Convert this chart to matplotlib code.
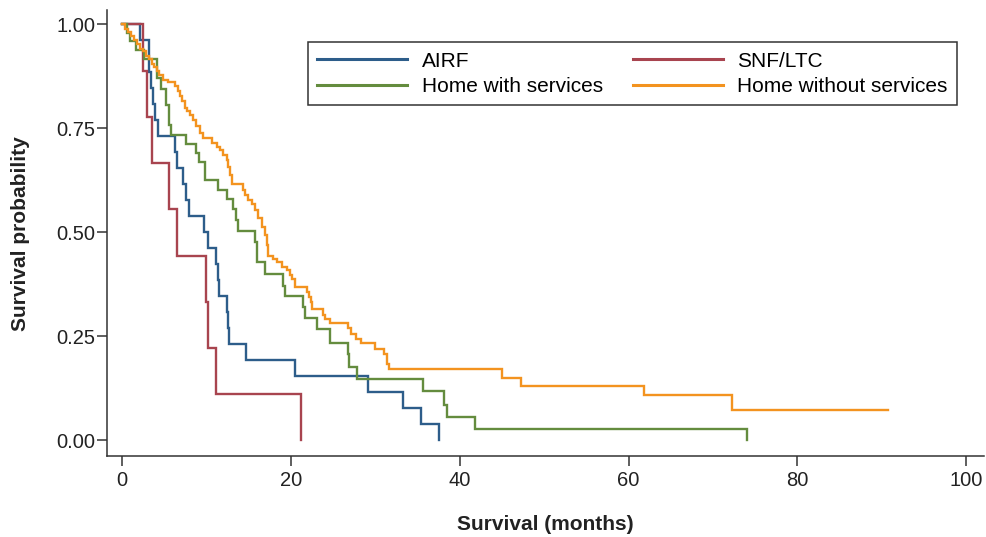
"""
Kaplan-Meier survival by discharge destination
"""
import matplotlib
matplotlib.use('Agg')
import matplotlib.pyplot as plt
import matplotlib.ticker as mticker

plt.rcParams['font.family'] = ['Liberation Sans', 'DejaVu Sans']

# event times (months) and survival after each drop
airf_t = [2.10, 3.16, 3.40, 3.67, 3.95, 4.27, 6.32, 6.55, 7.26, 7.55, 7.97, 9.75, 10.22,
          11.14, 11.37, 11.49, 12.44, 12.56, 12.71, 14.69, 20.50, 29.15, 33.29, 35.43, 37.56]
airf_s = [0.962, 0.885, 0.846, 0.808, 0.769, 0.731, 0.692, 0.654, 0.615, 0.577, 0.538, 0.500,
          0.462, 0.423, 0.385, 0.346, 0.308, 0.269, 0.231, 0.192, 0.154, 0.115, 0.077, 0.038, 0.0]

snf_t = [2.49, 3.00, 3.59, 5.56, 6.52, 9.95, 10.13, 11.14, 21.21]
snf_s = [0.889, 0.778, 0.667, 0.556, 0.444, 0.333, 0.222, 0.111, 0.0]

hws_t = [0.65, 0.89, 1.60, 2.55, 4.18, 4.59, 5.25, 5.51, 5.84, 7.62, 8.71, 9.06, 9.87, 11.41,
         12.41, 13.19, 13.45, 13.68, 15.76, 15.94, 16.88, 19.08, 19.35, 21.39, 21.62, 23.10,
         24.64, 26.72, 26.90, 27.81, 35.63, 38.19, 38.47, 41.77, 74.05]
hws_s = [0.980, 0.959, 0.939, 0.918, 0.870, 0.844, 0.805, 0.757, 0.734, 0.713, 0.690, 0.669,
         0.625, 0.601, 0.579, 0.555, 0.529, 0.502, 0.476, 0.428, 0.399, 0.371, 0.346, 0.319,
         0.294, 0.266, 0.234, 0.207, 0.176, 0.146, 0.117, 0.085, 0.056, 0.026, 0.0]

hwo_t = [0.36, 0.71, 1.07, 1.42, 1.78, 2.13, 2.49, 2.84, 3.20, 3.50, 3.79, 4.09, 4.44, 4.86,
         5.45, 6.24, 6.64, 6.87, 7.05, 7.43, 7.70, 8.02, 8.41, 8.80, 9.21, 9.60, 10.63, 11.22,
         11.61, 12.00, 12.41, 12.59, 12.80, 13.00, 14.37, 14.57, 14.96, 15.37, 15.76, 16.15,
         16.55, 16.94, 17.14, 17.33, 17.93, 18.33, 18.92, 19.51, 19.91, 20.11, 20.50, 21.86,
         22.16, 22.33, 22.48, 23.78, 24.05, 24.64, 26.81, 27.13, 27.73, 28.32, 29.98, 31.08,
         31.36, 31.58, 45.02, 47.27, 61.79, 72.24, 90.76]
hwo_s = [0.990, 0.981, 0.971, 0.962, 0.952, 0.942, 0.935, 0.925, 0.916, 0.906, 0.898, 0.889,
         0.879, 0.867, 0.862, 0.853, 0.839, 0.827, 0.815, 0.798, 0.791, 0.781, 0.769, 0.755,
         0.738, 0.726, 0.714, 0.706, 0.697, 0.685, 0.673, 0.656, 0.637, 0.615, 0.601, 0.589,
         0.577, 0.569, 0.553, 0.534, 0.513, 0.493, 0.469, 0.444, 0.435, 0.428, 0.416, 0.409,
         0.397, 0.388, 0.368, 0.356, 0.344, 0.332, 0.315, 0.300, 0.291, 0.282, 0.269, 0.256,
         0.244, 0.234, 0.220, 0.208, 0.184, 0.170, 0.150, 0.131, 0.108, 0.072, 0.072]

GROUPS = [
    ('AIRF',                  airf_t, airf_s, '#2D5D8A'),
    ('Home with services',    hws_t,  hws_s,  '#648C3E'),
    ('SNF/LTC',               snf_t,  snf_s,  '#A8444F'),
    ('Home without services', hwo_t,  hwo_s,  '#F3931F'),
]

fig = plt.figure(figsize=(9.86, 5.37), dpi=100)
fig.patch.set_facecolor('white')
ax = fig.add_axes([0.1085, 0.1508, 0.8895, 0.830])

# draw order: AIRF, SNF, home with, home without (orange on top)
for idx in [0, 2, 1, 3]:
    name, t, s, c = GROUPS[idx]
    ax.step([0] + t, [1.0] + s, where='post', color=c, lw=1.7, label=name,
            solid_joinstyle='miter')

ax.set_xlim(-1.78, 102.1)
ax.set_ylim(-0.0385, 1.034)
ax.set_xticks([0, 20, 40, 60, 80, 100])
ax.set_yticks([0, 0.25, 0.5, 0.75, 1.0])
ax.yaxis.set_major_formatter(mticker.FormatStrFormatter('%.2f'))

for sp in ['top', 'right']:
    ax.spines[sp].set_visible(False)
for sp in ['left', 'bottom']:
    ax.spines[sp].set_color('#333333')
    ax.spines[sp].set_linewidth(1.1)
ax.tick_params(direction='out', length=7.5, width=1.1, color='#333333',
               labelsize=14.5, labelcolor='#222222')
ax.tick_params(axis='y', pad=1)
ax.tick_params(axis='x', pad=3)

ax.set_ylabel('Survival probability', fontsize=15, fontweight='bold', labelpad=19,
              color='#222222')
ax.set_xlabel('Survival (months)', fontsize=15, fontweight='bold', labelpad=18,
              color='#222222')

h, l = ax.get_legend_handles_labels()
order = [l.index(n) for n in ['AIRF', 'Home with services', 'SNF/LTC', 'Home without services']]
leg = ax.legend([h[i] for i in order], [l[i] for i in order], ncol=2,
                loc='upper right', bbox_to_anchor=(0.969, 0.928),
                fontsize=15, frameon=True, fancybox=False, framealpha=1,
                handlelength=4.3, handletextpad=0.7, columnspacing=1.45,
                labelspacing=0.3, borderpad=0.45, borderaxespad=0)
leg.get_frame().set_edgecolor('#333333')
leg.get_frame().set_linewidth(1.1)
for line in leg.get_lines():
    line.set_linewidth(2.2)

plt.savefig('out.png', dpi=100, facecolor='white')
plt.close()
